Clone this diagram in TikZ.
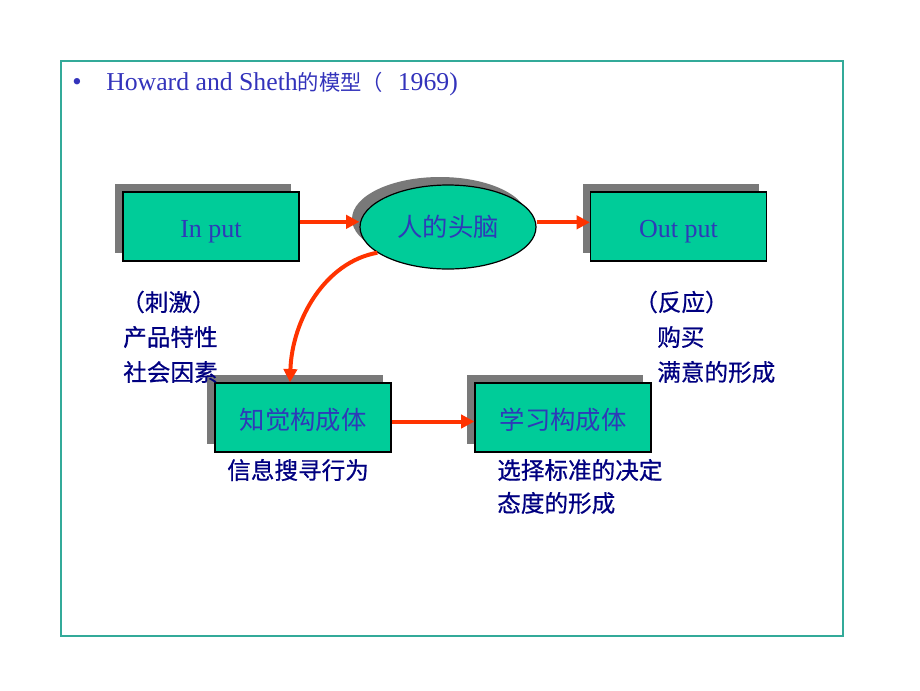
\documentclass[tikz,border=0pt]{standalone}
\usepackage{fontspec}
\setmainfont{Liberation Serif}
\newfontfamily\cjk{Noto Sans CJK SC}
\newfontfamily\cjkb[FakeBold=0.6]{Noto Sans CJK SC}
\usetikzlibrary{shapes.geometric,shadows,arrows.meta}
\definecolor{frameC}{RGB}{51,170,153}
\definecolor{boxC}{RGB}{0,204,153}
\definecolor{boxT}{RGB}{46,58,184}
\definecolor{labT}{RGB}{0,0,128}
\definecolor{titleT}{RGB}{51,51,187}
\definecolor{arrC}{RGB}{255,51,0}
\begin{document}
\begin{tikzpicture}[x=0.75pt,y=-0.75pt,
  shad/.style={drop shadow={shadow xshift=-6pt,shadow yshift=6pt,fill=gray!95!black,opacity=1}},
  rbox/.style={draw=black,line width=0.9pt,fill=boxC,minimum width=132pt,minimum height=51.75pt,inner sep=0pt,shad,text=boxT},
  ell/.style={ellipse,draw=black,line width=0.9pt,fill=boxC,minimum width=132pt,minimum height=63pt,inner sep=0pt,shad,text=boxT},
  arr/.style={draw=arrC,line width=3pt,-{Triangle[length=10pt,width=10pt]}},
  lab/.style={anchor=west,inner sep=0pt,text=labT,font=\cjkb\fontsize{17.7}{20}\selectfont},
  etxt/.style={font=\cjk\fontsize{19}{22}\selectfont},
  btxt/.style={font=\cjk\fontsize{19}{22}\selectfont,text height=17.4pt,text depth=0pt},
  ltxt/.style={font=\fontsize{19.5}{22}\selectfont,text height=17.2pt,text depth=0pt}]
\useasboundingbox (0,0) rectangle (920,690);
\draw[frameC,line width=0.8pt] (61,61) rectangle (843,636);
\node[anchor=center,inner sep=0pt,text=titleT,font=\fontsize{20}{22}\selectfont] (bul) at (77,84) {•};
\node[anchor=west,inner sep=0pt,text=titleT,font=\fontsize{19.3}{22}\selectfont] (title) at (106,84) {Howard and Sheth{\cjk\fontsize{16}{20}\selectfont 的模型（}\hspace{11pt}1969)};

\node[rbox,ltxt] (in) at (211,226.5) {In put};
\node[ell,etxt] (brain) at (448,227) {人的头脑};
\node[rbox,ltxt] (out) at (678.5,226.5) {Out put};
\node[rbox,btxt] (per) at (303,417.5) {知觉构成体};
\node[rbox,btxt] (lea) at (563,417.5) {学习构成体};

\draw[arr] ([yshift=3.5pt]in.east) -- ([yshift=3.5pt]in.east -| brain.west);
\draw[arr] ([yshift=3.5pt]brain.east) -- ([yshift=3.5pt]brain.east -| out.west);
\draw[arr] ([yshift=-3pt]per.east) -- ([yshift=-3pt]per.east -| lea.west);
\draw[arr] (brain.200) .. controls (325,262) and (292,320) .. ([xshift=-9.75pt]per.north);

\node[lab] (s1) at (121,302) {（刺激）};
\node[lab] (s2) at (123,337) {产品特性};
\node[lab] (s3) at (123,372) {社会因素};
\node[lab] (r1) at (634,302) {（反应）};
\node[lab] (r2) at (657,337) {购买};
\node[lab] (r3) at (657,372) {满意的形成};
\node[lab] (p1) at (227,470) {信息搜寻行为};
\node[lab] (l1) at (497,470) {选择标准的决定};
\node[lab] (l2) at (497,503) {态度的形成};
\end{tikzpicture}
\end{document}
